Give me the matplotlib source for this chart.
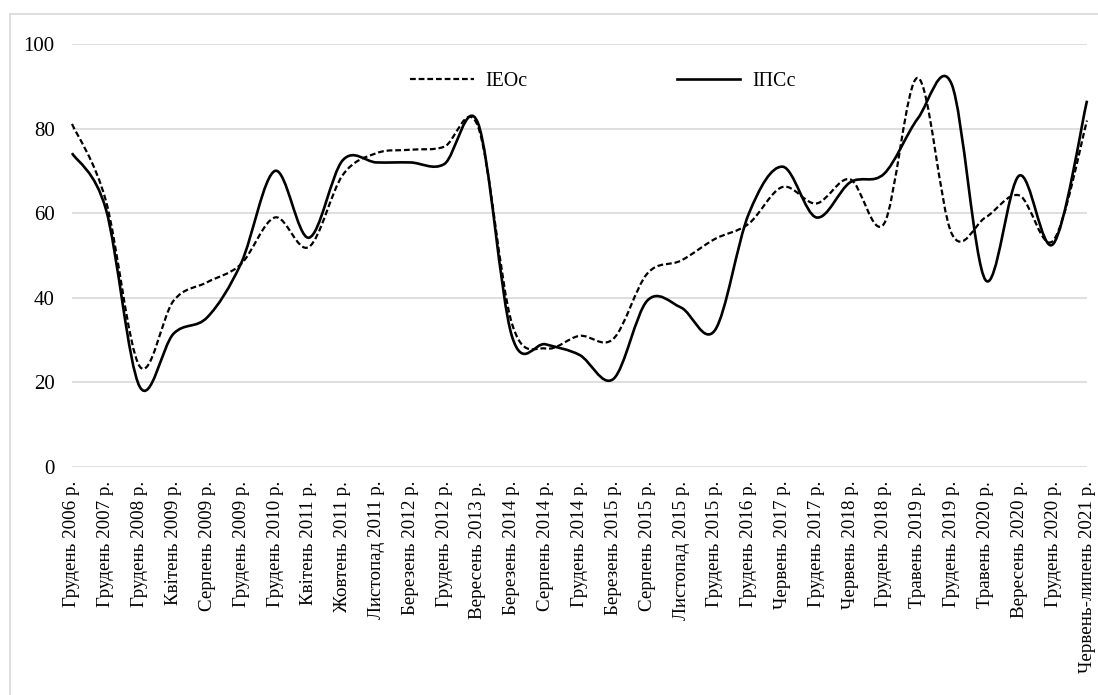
import matplotlib
matplotlib.use('Agg')
import matplotlib.pyplot as plt
from matplotlib.path import Path
from matplotlib.patches import PathPatch
from matplotlib.lines import Line2D

plt.rcParams['font.family'] = ['Liberation Serif', 'DejaVu Serif']

# періоди (вісь X)
periods = ['Грудень 2006 р.', 'Грудень 2007 р.', 'Грудень 2008 р.', 'Квітень 2009 р.',
           'Серпень 2009 р.', 'Грудень 2009 р.', 'Грудень 2010 р.', 'Квітень 2011 р.',
           'Жовтень 2011 р.', 'Листопад 2011 р.', 'Березень 2012 р.', 'Грудень 2012 р.',
           'Вересень 2013 р.', 'Березень 2014 р.', 'Серпень 2014 р.', 'Грудень 2014 р.',
           'Березень 2015 р.', 'Серпень 2015 р.', 'Листопад 2015 р.', 'Грудень 2015 р.',
           'Грудень 2016 р.', 'Червень 2017 р.', 'Грудень 2017 р.', 'Червень 2018 р.',
           'Грудень 2018 р.', 'Травень 2019 р.', 'Грудень 2019 р.', 'Травень 2020 р.',
           'Вересень 2020 р.', 'Грудень 2020 р.', 'Червень-липень 2021 р.']

# ІЕОс (пунктир)
ieoc = [81.1, 63.0, 23.8, 39.3, 43.7, 48.0, 59.0, 52.0, 69.0, 74.2, 75.0,
        75.7, 80.5, 34.0, 28.0, 31.0, 30.3, 45.7, 48.8, 53.9, 57.5, 66.2,
        62.3, 68.0, 57.5, 92.0, 55.2, 59.0, 64.2, 53.5, 81.9]

# ІПСс (суцільна)
ipsc = [74.2, 61.0, 19.0, 31.5, 35.4, 48.2, 70.0, 54.2, 72.5, 72.0, 72.0,
        71.6, 81.3, 31.0, 29.0, 26.5, 20.8, 39.3, 37.7, 32.3, 59.8, 71.0,
        59.0, 67.3, 69.3, 82.4, 90.5, 44.2, 68.9, 52.7, 86.6]

yticks = [0, 20, 40, 60, 80, 100]


def smooth_path(values):
    # згладжена лінія як в Excel (кубічні криві Безьє)
    n = len(values)
    pts = [(i, v) for i, v in enumerate(values)]
    verts = [pts[0]]
    codes = [Path.MOVETO]
    for i in range(n - 1):
        p0 = pts[max(i - 1, 0)]
        p1 = pts[i]
        p2 = pts[i + 1]
        p3 = pts[min(i + 2, n - 1)]
        c1 = (p1[0] + (p2[0] - p0[0]) / 6, p1[1] + (p2[1] - p0[1]) / 6)
        c2 = (p2[0] - (p3[0] - p1[0]) / 6, p2[1] - (p3[1] - p1[1]) / 6)
        verts += [c1, c2, p2]
        codes += [Path.CURVE4] * 3
    return Path(verts, codes)


W, H = 1098, 695
fig = plt.figure(figsize=(W / 100, H / 100), dpi=100)
ax = fig.add_axes([72 / W, 228 / H, 1015 / W, 423 / H])

dash = (2.6, 1.3)
ax.add_patch(PathPatch(smooth_path(ieoc), facecolor='none', edgecolor='black',
                       lw=1.6, linestyle=(0, dash), clip_on=False, zorder=3))
ax.add_patch(PathPatch(smooth_path(ipsc), facecolor='none', edgecolor='black',
                       lw=1.9, clip_on=False, zorder=4))

ax.set_xlim(0, len(periods) - 1)
ax.set_ylim(0, 100)
ax.set_yticks(yticks)
ax.set_xticks(range(len(periods)))
ax.set_xticklabels(periods, rotation=90, fontsize=13.7, va='top', ha='center')
ax.tick_params(axis='y', length=0, pad=12.5, labelsize=15)
ax.tick_params(axis='x', length=0, pad=10)
ax.yaxis.grid(True, color='#d9d9d9', lw=1.2)
ax.set_axisbelow(True)
for s in ax.spines.values():
    s.set_visible(False)

handles = [Line2D([], [], color='black', lw=1.6, dashes=dash),
           Line2D([], [], color='black', lw=1.9)]
ax.legend(handles, ['ІЕОс', 'ІПСс'], loc='center', bbox_to_anchor=(0.523, 0.9125),
          ncol=2, frameon=False, fontsize=14.3, handlelength=3.2, handletextpad=0.6,
          columnspacing=7.5)

# рамка діаграми
fig.add_artist(Line2D([10 / W, 10 / W], [0, 1 - 14 / H], transform=fig.transFigure,
                      color='#d9d9d9', lw=1.2))
fig.add_artist(Line2D([10 / W, 1], [1 - 14 / H, 1 - 14 / H], transform=fig.transFigure,
                      color='#d9d9d9', lw=1.2))

fig.savefig('out.png', dpi=100)
